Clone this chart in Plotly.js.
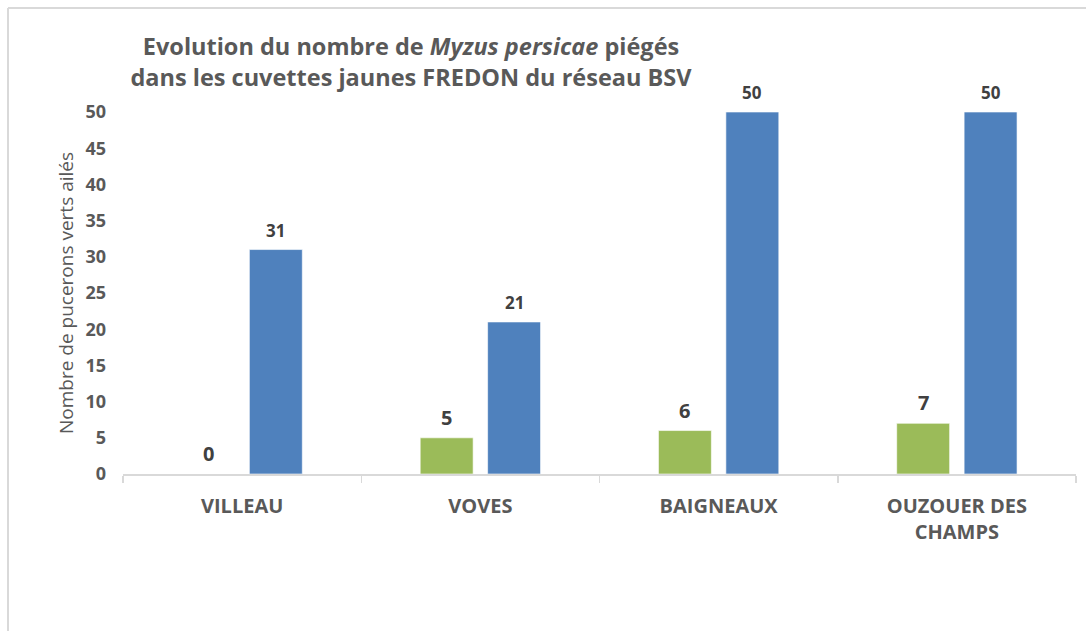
<!DOCTYPE html>
<html>
<head>
<meta charset="utf-8">
<script src="https://cdn.plot.ly/plotly-3.0.1.min.js"></script>
<style>html,body{margin:0;padding:0;background:#fff;}#chart{width:1086px;height:631px;}</style>
</head>
<body>
<div id="chart"></div>
<script>
const categories = ["VILLEAU", "VOVES", "BAIGNEAUX", "OUZOUER DES<br>CHAMPS"];
const seriesGreen = [0, 5, 6, 7];
const seriesBlue = [31, 21, 50, 50];
const yTicks = [0, 5, 10, 15, 20, 25, 30, 35, 40, 45, 50];

const FONT = "Open Sans, sans-serif";
const GREY = "#595959";
const DARK = "#404040";

const traces = [
  {type: "bar", name: "Relevé 1", x: categories, y: seriesGreen,
   marker: {color: "#9BBB59", line: {color: "rgba(255,255,255,0.6)", width: 1}}, hoverinfo: "y"},
  {type: "bar", name: "Relevé 2", x: categories, y: seriesBlue,
   marker: {color: "#4F81BD", line: {color: "rgba(255,255,255,0.6)", width: 1}}, hoverinfo: "y"}
];

const annotations = [];
seriesGreen.forEach((v, i) => annotations.push({x: categories[i], y: v, xref: "x", yref: "y",
  text: "<b>" + v + "</b>", showarrow: false, yanchor: "bottom", xshift: -33.75, yshift: 5,
  font: {family: FONT, size: 20, color: DARK}}));
seriesBlue.forEach((v, i) => annotations.push({x: categories[i], y: v, xref: "x", yref: "y",
  text: "<b>" + v + "</b>", showarrow: false, yanchor: "bottom", xshift: 33.75, yshift: 6,
  font: {family: FONT, size: 17, color: DARK}}));

const layout = {
  width: 1086, height: 631,
  margin: {l: 123, r: 10, t: 112, b: 157},
  paper_bgcolor: "#fff", plot_bgcolor: "#fff",
  showlegend: false,
  barmode: "group", bargap: 0.434, bargroupgap: 0.215,
  font: {family: FONT, color: GREY},
  title: {
    text: "<b>Evolution du nombre de <i>Myzus persicae</i> piégés<br>dans les cuvettes jaunes FREDON du réseau BSV</b>",
    x: 411 / 1086, xanchor: "center", xref: "container",
    y: 1 - 55 / 631, yanchor: "middle", yref: "container",
    font: {family: FONT, size: 23.5, color: GREY}
  },
  xaxis: {
    type: "category",
    showline: true, linecolor: "#d9d9d9", linewidth: 1.5,
    ticks: "outside", tickson: "boundaries", ticklen: 7, tickcolor: "#d9d9d9", tickwidth: 1.5,
    ticklabelstandoff: 13,
    tickfont: {family: FONT, size: 20, color: GREY, weight: 700},
    showgrid: false, zeroline: false
  },
  yaxis: {
    range: [0, 50], tickvals: yTicks, ticktext: yTicks.map(String),
    showline: false, showgrid: false, zeroline: false, ticks: "",
    ticklabelstandoff: 16,
    tickfont: {family: FONT, size: 18, color: GREY, weight: 700},
    title: {text: "Nombre de pucerons verts ailés", standoff: 6, font: {family: FONT, size: 19, color: GREY}}
  },
  annotations: annotations,
  shapes: [
    {type: "line", xref: "paper", yref: "paper", x0: -115 / 953, x1: 1.02, y0: 466 / 362, y1: 466 / 362,
     line: {color: "#d9d9d9", width: 2}},
    {type: "line", xref: "paper", yref: "paper", x0: -115 / 953, x1: -115 / 953, y0: 466 / 362, y1: -0.45,
     line: {color: "#d9d9d9", width: 2}}
  ]
};

Plotly.newPlot("chart", traces, layout, {displayModeBar: false, staticPlot: true});
</script>
</body>
</html>
